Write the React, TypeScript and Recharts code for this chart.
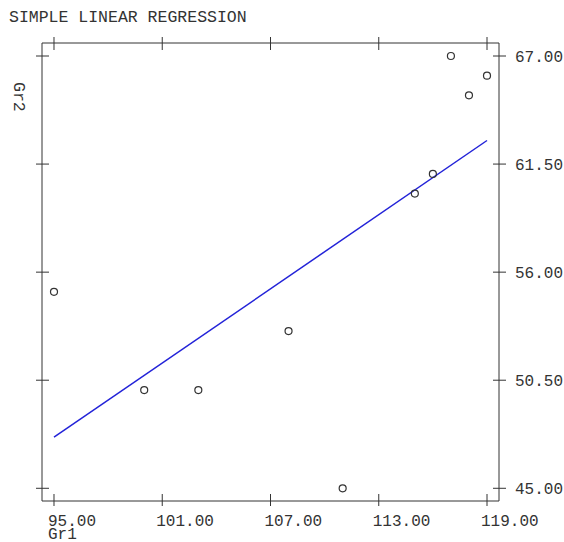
import React from "react";
import { ScatterChart, Scatter, XAxis, YAxis } from "recharts";

const gr1 = [95, 100, 103, 108, 111, 115, 116, 117, 118, 119];
const gr2 = [55, 50, 50, 53, 45, 60, 61, 67, 65, 66];

// Fitted regression line end points as drawn
const fitX = [95, 119];
const fitY = [47.6, 62.7];

const xTicks = [95, 101, 107, 113, 119];
const yTicks = [45, 50.5, 56, 61.5, 67];

const points = gr1.map((x, i) => ({ x, y: gr2[i] }));
const fitLine = fitX.map((x, i) => ({ x, y: fitY[i] }));

const FONT = "'Liberation Mono', 'Courier New', monospace";
const INK = "#333";
const X_DOMAIN: [number, number] = [94.335, 119.665];
const Y_DOMAIN: [number, number] = [44.353, 67.662];

const BottomTick = (props: any) => {
  const { x, y, payload } = props;
  return (
    <g>
      <line x1={x} x2={x} y1={y - 7} y2={y + 5} stroke={INK} />
      <text x={x - 6} y={y + 24.5} fontFamily={FONT} fontSize={16} fill={INK} textAnchor="start">
        {payload.value.toFixed(2)}
      </text>
    </g>
  );
};

const TopTick = (props: any) => {
  const { x, y } = props;
  return <line x1={x} x2={x} y1={y - 6} y2={y + 7} stroke={INK} />;
};

const LeftTick = (props: any) => {
  const { x, y } = props;
  return <line x1={x - 6} x2={x + 7} y1={y} y2={y} stroke={INK} />;
};

const RightTick = (props: any) => {
  const { x, y, payload } = props;
  return (
    <g>
      <line x1={x - 6} x2={x + 7} y1={y} y2={y} stroke={INK} />
      <text x={x + 16} y={y + 5.5} fontFamily={FONT} fontSize={16} fill={INK} textAnchor="start">
        {payload.value.toFixed(2)}
      </text>
    </g>
  );
};

const textStyle: React.CSSProperties = {
  position: "absolute",
  fontFamily: FONT,
  fontSize: 16.5,
  lineHeight: 1,
  color: INK,
  whiteSpace: "nowrap",
};

export default function App() {
  return (
    <div style={{ position: "absolute", left: 0, top: 0, width: 564, height: 542, background: "#fff", overflow: "hidden" }}>
      <div style={{ ...textStyle, left: 9, top: 10 }}>SIMPLE LINEAR REGRESSION</div>
      <div style={{ ...textStyle, left: 9, top: 82, writingMode: "vertical-rl" }}>Gr2</div>
      <div style={{ ...textStyle, left: 48, top: 530, lineHeight: "11px", fontSize: 16 }}>Gr1</div>
      <ScatterChart width={564} height={542} margin={{ top: 42, left: 41, right: 64, bottom: 40 }}>
        <XAxis
          xAxisId="bottom"
          dataKey="x"
          type="number"
          orientation="bottom"
          domain={X_DOMAIN}
          allowDataOverflow
          ticks={xTicks}
          height={1}
          tickSize={0}
          tickMargin={0}
          tickLine={false}
          axisLine={{ stroke: INK }}
          tick={<BottomTick />}
          interval={0}
        />
        <XAxis
          xAxisId="top"
          dataKey="x"
          type="number"
          orientation="top"
          domain={X_DOMAIN}
          allowDataOverflow
          ticks={xTicks}
          height={1}
          tickSize={0}
          tickMargin={0}
          tickLine={false}
          axisLine={{ stroke: INK }}
          tick={<TopTick />}
          interval={0}
        />
        <YAxis
          yAxisId="left"
          dataKey="y"
          type="number"
          orientation="left"
          domain={Y_DOMAIN}
          allowDataOverflow
          ticks={yTicks}
          width={1}
          tickSize={0}
          tickMargin={0}
          tickLine={false}
          axisLine={{ stroke: INK }}
          tick={<LeftTick />}
          interval={0}
        />
        <YAxis
          yAxisId="right"
          dataKey="y"
          type="number"
          orientation="right"
          domain={Y_DOMAIN}
          allowDataOverflow
          ticks={yTicks}
          width={1}
          tickSize={0}
          tickMargin={0}
          tickLine={false}
          axisLine={{ stroke: INK }}
          tick={<RightTick />}
          interval={0}
        />
        <Scatter
          data={fitLine}
          xAxisId="top"
          yAxisId="right"
          line={{ stroke: "#2323d8", strokeWidth: 1.5 }}
          shape={() => <g />}
          isAnimationActive={false}
        />
        <Scatter
          data={points}
          xAxisId="bottom"
          yAxisId="left"
          shape={(p: any) => <circle cx={p.cx} cy={p.cy} r={3.5} fill="none" stroke={INK} strokeWidth={1.2} />}
          isAnimationActive={false}
        />
      </ScatterChart>
    </div>
  );
}
